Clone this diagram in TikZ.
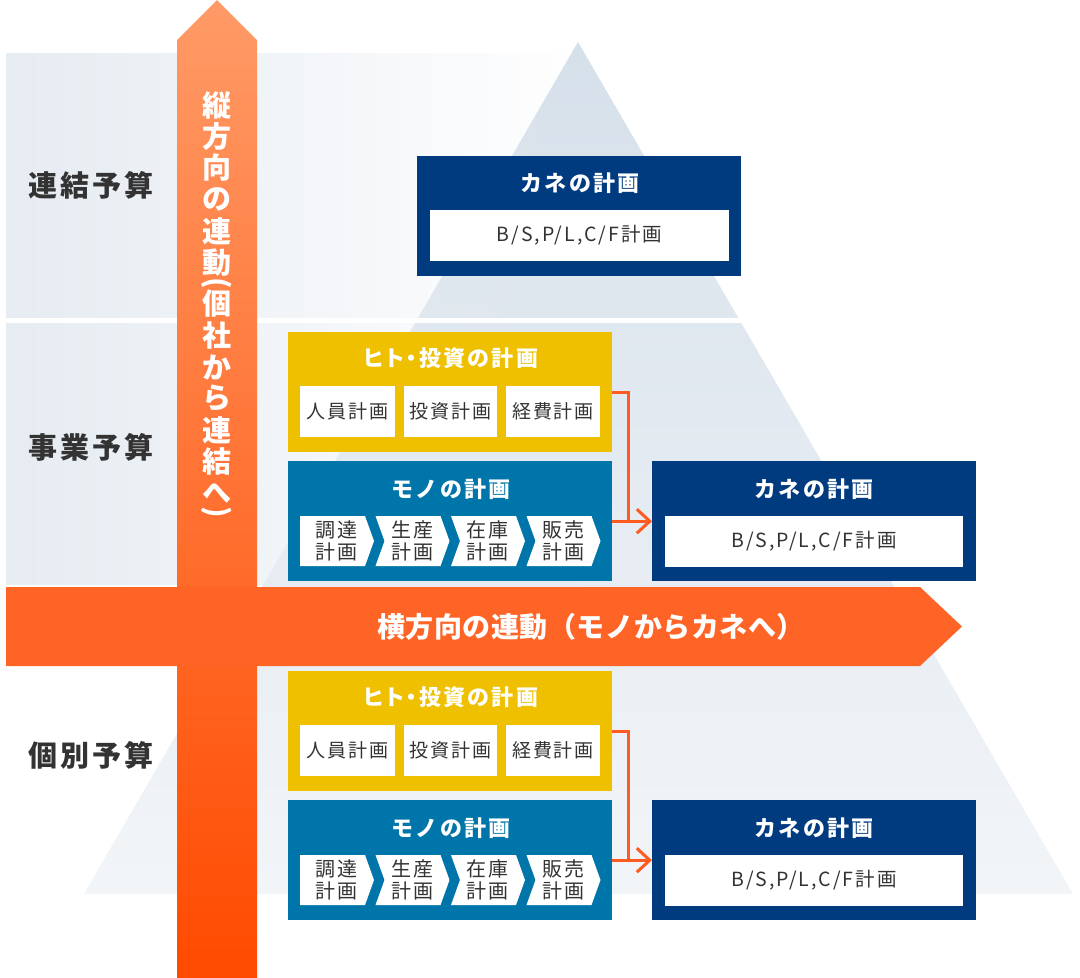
\documentclass[tikz,border=0pt]{standalone}
\usepackage{fontspec}
\setmainfont{Noto Sans CJK JP}
\usetikzlibrary{arrows.meta,fadings}

\definecolor{bandgray}{HTML}{E6ECF2}
\definecolor{pyrtop}{HTML}{D6E0EA}
\definecolor{pyrbottom}{HTML}{F2F5F8}
\definecolor{arrowtop}{HTML}{FF9A66}
\definecolor{arrowmid}{HTML}{FF6C2E}
\definecolor{arrowbottom}{HTML}{FF4A00}
\definecolor{arroworange}{HTML}{FF6427}
\definecolor{hitogold}{HTML}{EEC000}
\definecolor{monoblue}{HTML}{0075A9}
\definecolor{kanenavy}{HTML}{003B80}
\definecolor{linkorange}{HTML}{FF5A1F}
\definecolor{textgray}{HTML}{333333}

\tikzfading[name=bandfade, left color=transparent!0, middle color=transparent!20, right color=transparent!100]

\newcommand{\tracked}{\addfontfeatures{LetterSpace=10}}

\tikzset{
  levellabel/.style={text=textgray, font=\fontsize{29}{29}\selectfont\bfseries\tracked},
  planbox/.style={anchor=north west, inner sep=0pt, minimum width=324, minimum height=120},
  boxtitle/.style={text=white, font=\fontsize{22}{22}\selectfont\bfseries\tracked},
  itembox/.style={fill=white, inner sep=0pt, minimum height=51, text=textgray, font=\fontsize{19}{19}\selectfont\tracked},
  flowtext/.style={text=textgray, align=center, inner sep=0pt, font=\fontsize{20}{22}\selectfont\tracked},
  arrowtext/.style={text=white, inner sep=0pt, font=\fontsize{28}{28}\selectfont\bfseries\addfontfeatures{LetterSpace=2}},
  vchar/.style={text=white, inner sep=0pt, font=\fontsize{29}{29}\selectfont\bfseries},
  link/.style={draw=linkorange, line width=3pt},
}

\begin{document}
\begin{tikzpicture}[x=1pt, y=-1pt]
    \useasboundingbox (0,0) rectangle (1080,978);
    \fill [white] (0,0) rectangle (1080,978);

    \shade [top color=pyrtop, bottom color=pyrbottom] (578,42) -- (1073,894) -- (84,894) -- cycle;
    \fill [white] (0,318) rectangle (1080,323);
    \fill [bandgray, path fading=bandfade] (6,53) rectangle (580,318);
    \fill [bandgray, path fading=bandfade] (6,323) rectangle (580,585);

    \node [levellabel] (renketsu) at (91,185) {連結予算};
    \node [levellabel] (jigyou) at (91,447) {事業予算};
    \node [levellabel] (kobetsu) at (91,755) {個別予算};

    \shade [top color=arrowtop, middle color=arrowmid, bottom color=arrowbottom]
        (177,978) -- (177,40) -- (217,0) -- (257,40) -- (257,978) -- cycle;
    \fill [arroworange] (6,587) -- (920,587) -- (962,626.5) -- (920,666) -- (6,666) -- cycle;
    \foreach \c/\y/\r [count=\i] in {縦/105/0, 方/136.5/0, 向/168/0, の/199.5/0, 連/231/0, 動/262.5/0,
                                    {(}/283/-90, 個/304/0, 社/335.5/0, か/367/0, ら/398.5/0, 連/430/0,
                                    結/461.5/0, へ/493/0, {)}/512/-90}
        \node [vchar, rotate=\r] (tate\i) at (217,\y) {\c};
    \node [arrowtext] (yokolabel) at (591,626.5) {横方向の連動（モノからカネへ）};

    \node [planbox, fill=kanenavy] (kanetop) at (417,156) {};
    \node [boxtitle] (kanetoptitle) at (580,183) {カネの計画};
    \node [itembox, minimum width=299, font=\fontsize{19.5}{19.5}\selectfont\tracked] (bsplcftop) at (579.5,235) {B/S,P/L,C/F計画};

    \foreach \g/\dy in {a/0, b/339} {
        \node [planbox, fill=hitogold] (hito\g) at (288,332+\dy) {};
        \node [boxtitle] (hitotitle\g) at (451,358+\dy) {\addfontfeatures{RawFeature=+palt}ヒト・投資の計画};
        \node [itembox, minimum width=95] (jinin\g) at (347.5,411.5+\dy) {人員計画};
        \node [itembox, minimum width=93] (toushi\g) at (450.5,411.5+\dy) {投資計画};
        \node [itembox, minimum width=94] (keihi\g) at (553,411.5+\dy) {経費計画};

        \node [planbox, fill=monoblue] (mono\g) at (288,461+\dy) {};
        \node [boxtitle] (monotitle\g) at (451,489+\dy) {モノの計画};
        \foreach \x/\s [count=\i] in {300/調達, 375.5/生産, 451/在庫, 526.5/販売} {
            \ifnum\i=1 \def\notch{0}\else\def\notch{9}\fi
            \fill [white] (\x,516+\dy) -- (\x+65,516+\dy) -- (\x+74,541+\dy) -- (\x+65,566+\dy)
                -- (\x,566+\dy) -- (\x+\notch,541+\dy) -- cycle;
            \node [flowtext] (flow\g\i) at (\x+36.5,541+\dy) {\s\\計画};
        }

        \node [planbox, fill=kanenavy] (kane\g) at (652,461+\dy) {};
        \node [boxtitle] (kanetitle\g) at (814,489+\dy) {カネの計画};
        \node [itembox, minimum width=298, font=\fontsize{19.5}{19.5}\selectfont\tracked] (bsplcf\g) at (814,541+\dy) {B/S,P/L,C/F計画};

        \coordinate (join\g) at (628,521+\dy);
        \draw [link] (hito\g.east) -| (join\g);
        \draw [link, -{Straight Barb[length=13pt, width=24pt]}] (mono\g.east) -- (kane\g.west);
    }

\end{tikzpicture}
\end{document}
